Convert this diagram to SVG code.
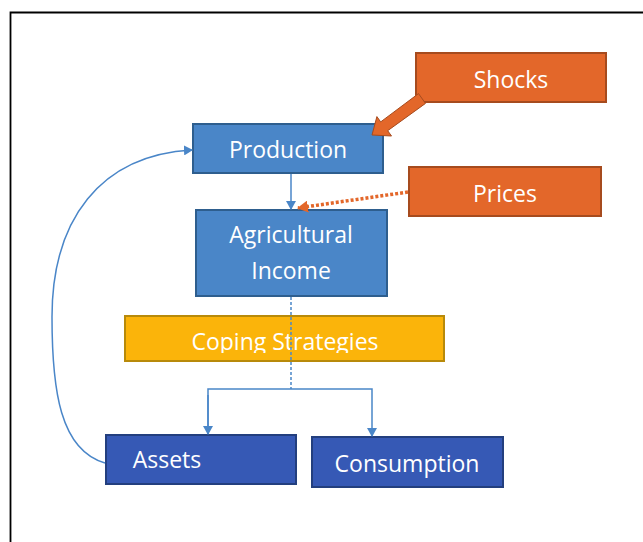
<svg xmlns="http://www.w3.org/2000/svg" width="643" height="542" viewBox="0 0 643 542">
<style>
.t{font-family:"Open Sans","Liberation Sans",sans-serif;font-size:23px;fill:#fff;text-anchor:middle}
.b1{fill:#4A86C8;stroke:#2E5E8E;stroke-width:2}
.b2{fill:#3659B5;stroke:#233F7E;stroke-width:2}
.o{fill:#E3672A;stroke:#A64B1E;stroke-width:2}
.y{fill:#FBB40A;stroke:#B88A0A;stroke-width:2}
.c{fill:none;stroke:#4A86C8;stroke-width:1.5}
</style>
<defs>
<marker id="ab" markerWidth="10" markerHeight="10" refX="8" refY="5" orient="auto" markerUnits="userSpaceOnUse"><path d="M0,0 L9,5 L0,10 Z" fill="#4A86C8"/></marker>
<marker id="ao" markerWidth="12" markerHeight="12" refX="10" refY="6" orient="auto" markerUnits="userSpaceOnUse"><path d="M0,0 L11,6 L0,12 Z" fill="#E3672A"/></marker>
<clipPath id="cc"><rect x="120" y="310" width="330" height="43"/></clipPath>
</defs>
<rect width="643" height="542" fill="#fff"/>
<path d="M10.5,542 V12.5 H643" fill="none" stroke="#000" stroke-width="1.8"/>
<g id="shocks"><rect x="416" y="53" width="190" height="49" class="o"/><text x="511" y="88" class="t">Shocks</text></g>
<g id="production"><rect x="193" y="124" width="190" height="49" class="b1"/><text x="288" y="158" class="t">Production</text></g>
<g id="prices"><rect x="409" y="167" width="192" height="49" class="o"/><text x="505" y="202" class="t">Prices</text></g>
<g id="agricultural-income"><rect x="196" y="210" width="191" height="86" class="b1"/><text x="291" y="243" class="t">Agricultural</text><text x="291" y="279" class="t">Income</text></g>
<g id="coping-strategies"><rect x="125" y="316" width="319" height="45" class="y"/><text x="285" y="350" class="t" clip-path="url(#cc)">Coping Strategies</text></g>
<g id="assets"><rect x="106" y="435" width="190" height="49" class="b2"/><text x="167" y="468" class="t">Assets</text></g>
<g id="consumption"><rect x="312" y="437" width="191" height="50" class="b2"/><text x="407" y="472" class="t">Consumption</text></g>
<g id="connectors">
<polygon points="372,135 391.5,136 387.7,130.7 425.5,103.4 418.5,93.6 380.7,121.9 376.9,116.6" fill="#E3672A" stroke="#A64B1E" stroke-width="1"/>
<line x1="291" y1="174" x2="291" y2="209" class="c" marker-end="url(#ab)"/>
<line x1="408" y1="192" x2="298" y2="208" fill="none" stroke="#E3672A" stroke-width="3.5" stroke-dasharray="3,2" marker-end="url(#ao)"/>
<line x1="291" y1="297" x2="291" y2="389" class="c" stroke-dasharray="3,2"/>
<path d="M208,434 V389 H372 V436" class="c" marker-end="url(#ab)"/>
<line x1="208" y1="395" x2="208" y2="434" class="c" marker-end="url(#ab)"/>
<path d="M105,463 C60,450 52,390 52,317 C52,220 100,155 192,150" class="c" marker-end="url(#ab)"/>
</g>
</svg>
